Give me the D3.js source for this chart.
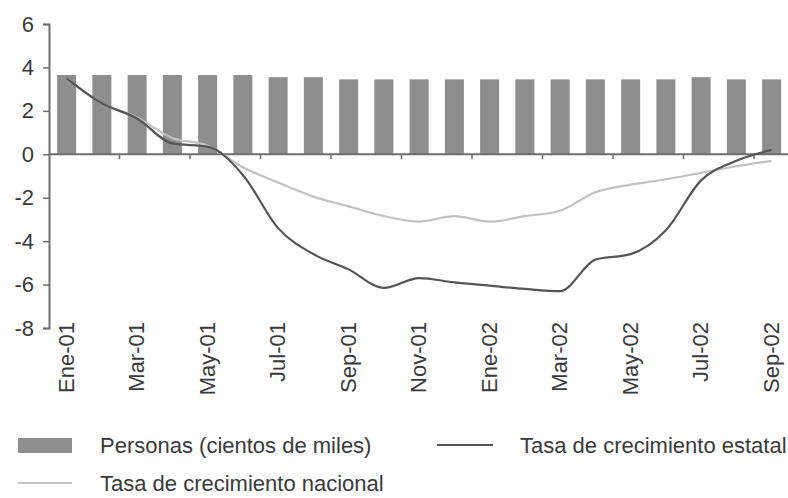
<!DOCTYPE html>
<html>
<head>
<meta charset="utf-8">
<script src="https://cdn.jsdelivr.net/npm/d3@7"></script>
<style>
  html, body { margin: 0; padding: 0; background: #fff; }
  svg { display: block; font-family: "Liberation Sans", Arial, sans-serif; }
</style>
</head>
<body>
<svg id="chart" width="788" height="498"></svg>
<script>
// Monthly categories, Ene-01 .. Sep-02
const months = ["Ene-01","Feb-01","Mar-01","Abr-01","May-01","Jun-01","Jul-01","Ago-01","Sep-01","Oct-01","Nov-01","Dic-01",
                "Ene-02","Feb-02","Mar-02","Abr-02","May-02","Jun-02","Jul-02","Ago-02","Sep-02"];
// Personas (cientos de miles)
const personas = [3.65,3.65,3.65,3.65,3.65,3.65,3.55,3.55,3.45,3.45,3.45,3.45,3.45,3.45,3.45,3.45,3.45,3.45,3.55,3.45,3.45];
// Tasa de crecimiento estatal (%)
const estatal = [3.5,2.35,1.65,0.5,0.35,-0.95,-3.4,-4.6,-5.3,-6.15,-5.7,-5.9,-6.05,-6.2,-6.3,-4.85,-4.6,-3.5,-1.2,-0.3,0.2];
// Tasa de crecimiento nacional (%)
const nacional = [3.5,2.35,1.7,0.75,0.4,-0.6,-1.3,-1.95,-2.4,-2.85,-3.1,-2.85,-3.1,-2.85,-2.6,-1.75,-1.4,-1.15,-0.85,-0.55,-0.3];
// Axis ticks
const yTicks = [6,4,2,0,-2,-4,-6,-8];
const xLabels = ["Ene-01","Mar-01","May-01","Jul-01","Sep-01","Nov-01","Ene-02","Mar-02","May-02","Jul-02","Sep-02"];

const svg = d3.select("#chart");
const plotLeft = 49, plotRight = 789.25, plotTop = 24, plotBottom = 328;

const x = d3.scaleBand().domain(months).range([plotLeft, plotRight]).paddingInner(0.46).paddingOuter(0.23);
const y = d3.scaleLinear().domain([-8, 6]).range([plotBottom, plotTop]);
const cx = d => x(d) + x.bandwidth() / 2;

const barColor = "#8e8e8e", axisColor = "#6e6e6e", textColor = "#3a3a3a";
const darkLine = "#555555", lightLine = "#c2c2c2";

// Bars
svg.append("g").selectAll("rect").data(months).join("rect")
  .attr("x", d => x(d))
  .attr("width", x.bandwidth())
  .attr("y", (d, i) => y(personas[i]))
  .attr("height", (d, i) => y(0) - y(personas[i]))
  .attr("fill", barColor);

// Y axis
const yAxis = svg.append("g").attr("transform", `translate(${plotLeft},0)`)
  .call(d3.axisLeft(y).tickValues(yTicks).tickSize(6).tickPadding(9).tickFormat(d3.format("d")));
yAxis.select(".domain").attr("stroke", axisColor).attr("stroke-width", 2);
yAxis.selectAll(".tick line").attr("stroke", axisColor).attr("stroke-width", 1.5);
yAxis.selectAll(".tick text").attr("fill", textColor).attr("font-size", 22)
  .attr("font-family", "'Liberation Sans', Arial, sans-serif")
  .text(d => d < 0 ? "-" + Math.abs(d) : d);

// Zero line with ticks at every second month boundary
const xAxis = svg.append("g").attr("transform", `translate(0,${y(0)})`);
xAxis.append("line").attr("x1", plotLeft).attr("x2", plotRight).attr("stroke", axisColor).attr("stroke-width", 2);
const step = x.step();
xAxis.selectAll("line.tk").data(months.filter((d, i) => i % 2 === 0 && i > 0)).join("line")
  .attr("class", "tk")
  .attr("x1", d => x(d) - step * x.paddingInner() / 2)
  .attr("x2", d => x(d) - step * x.paddingInner() / 2)
  .attr("y1", 0).attr("y2", 5)
  .attr("stroke", axisColor).attr("stroke-width", 1.5);

// Rotated month labels at the bottom of the plot
svg.append("g").selectAll("text").data(xLabels).join("text")
  .attr("transform", d => `translate(${cx(d) + 7},${plotBottom - 6}) rotate(-90)`)
  .attr("text-anchor", "end")
  .attr("font-size", 22)
  .attr("fill", textColor)
  .text(d => d);

// Growth-rate lines
const line = vals => d3.line()
  .x((d, i) => cx(months[i]))
  .y(d => y(d))
  .curve(d3.curveMonotoneX)(vals);

svg.append("path").attr("d", line(nacional)).attr("fill", "none")
  .attr("stroke", lightLine).attr("stroke-width", 2.2);
svg.append("path").attr("d", line(estatal)).attr("fill", "none")
  .attr("stroke", darkLine).attr("stroke-width", 2.2);

// Legend
const lg = svg.append("g").attr("font-size", 22).attr("fill", textColor);
lg.append("rect").attr("x", 18).attr("y", 438).attr("width", 54).attr("height", 15).attr("fill", barColor);
lg.append("text").attr("x", 100).attr("y", 453).text("Personas (cientos de miles)");
lg.append("line").attr("x1", 437).attr("x2", 493).attr("y1", 445).attr("y2", 445)
  .attr("stroke", darkLine).attr("stroke-width", 2.2);
lg.append("text").attr("x", 520).attr("y", 453).text("Tasa de crecimiento estatal");
lg.append("line").attr("x1", 18).attr("x2", 72).attr("y1", 483).attr("y2", 483)
  .attr("stroke", lightLine).attr("stroke-width", 2.2);
lg.append("text").attr("x", 100).attr("y", 491).text("Tasa de crecimiento nacional");
</script>
</body>
</html>
